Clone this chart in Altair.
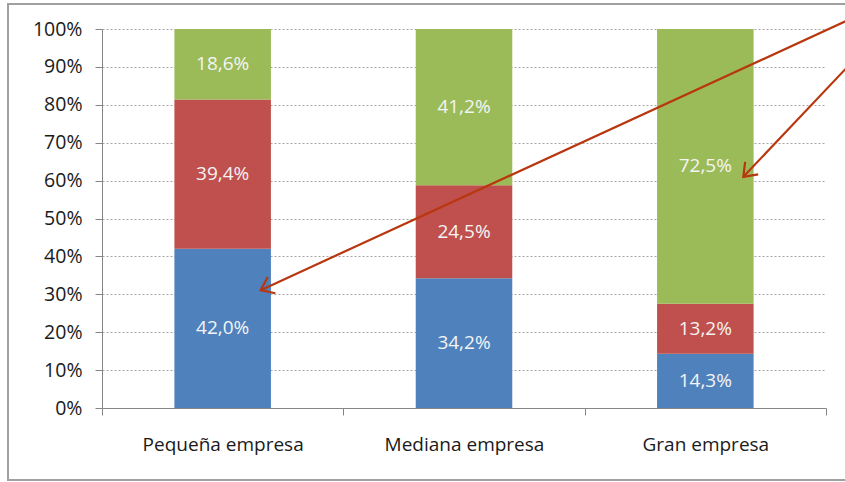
import altair as alt
import pandas as pd

categories = ["Pequeña empresa", "Mediana empresa", "Gran empresa"]
series = ["Serie 1", "Serie 2", "Serie 3"]
values_s1 = [42.0, 34.2, 14.3]
values_s2 = [39.4, 24.5, 13.2]
values_s3 = [18.6, 41.2, 72.5]
colors = ["#4F81BD", "#C0504D", "#9BBB59"]
y_ticks = [0, 0.1, 0.2, 0.3, 0.4, 0.5, 0.6, 0.7, 0.8, 0.9, 1.0]

# annotation arrows (start / end anchored in data space)
arrow_from_cat = ["Gran empresa", "Gran empresa"]
arrow_from_val = [1.037, 0.933]
arrow_to_cat = ["Pequeña empresa", "Gran empresa"]
arrow_to_val = [0.311, 0.610]
arrow_angle = [155.3, 133.8]

FONT = "Open Sans"
rows = []
for i, c in enumerate(categories):
    for k, (s, vals) in enumerate(zip(series, [values_s1, values_s2, values_s3])):
        rows.append({
            "cat": c, "serie": s, "valor": vals[i], "orden": k,
            "etiqueta": f"{vals[i]:.1f}%".replace(".", ","),
        })
df = pd.DataFrame(rows)

arrows = pd.DataFrame({
    "cat_ini": arrow_from_cat, "val_ini": arrow_from_val,
    "cat_fin": arrow_to_cat, "val_fin": arrow_to_val, "ang": arrow_angle,
})

xscale = alt.Scale(domain=categories, paddingInner=0, paddingOuter=0)
yscale = alt.Scale(domain=[0, 1], nice=False)

xaxis = alt.Axis(title=None, labelAngle=0, tickBand="extent", tickSize=7,
                 labelPadding=20, domainColor="#868686", tickColor="#868686",
                 labelFont=FONT, labelFontSize=19, labelColor="#1A1A1A", grid=False,
                 labelOverlap=False)
yaxis = alt.Axis(title=None, format="%", values=y_ticks, tickSize=7, labelPadding=13,
                 domainColor="#868686", tickColor="#868686", gridColor="#A6A6A6",
                 gridDash=[2, 2], gridWidth=1, labelFont=FONT, labelFontSize=19.5,
                 labelColor="#1A1A1A", labelOverlap=False, tickCount=20)

base = alt.Chart(df)

bars = base.mark_bar(width=alt.RelativeBandSize(0.4)).encode(
    x=alt.X("cat:N", scale=xscale, axis=xaxis, sort=categories),
    y=alt.Y("valor:Q", stack="normalize", scale=yscale, axis=yaxis),
    color=alt.Color("serie:N", scale=alt.Scale(domain=series, range=colors), legend=None),
    order=alt.Order("orden:Q", sort="ascending"),
)

labels = base.transform_joinaggregate(
    total="sum(valor)", groupby=["cat"]
).transform_window(
    acum="sum(valor)", groupby=["cat"], sort=[alt.SortField("orden", order="ascending")],
    frame=[None, 0]
).transform_calculate(
    mid="(datum.acum - datum.valor / 2) / datum.total"
).mark_text(font=FONT, fontSize=19, color="#F4F4F4").encode(
    x=alt.X("cat:N", scale=xscale, sort=categories, axis=xaxis),
    y=alt.Y("mid:Q", scale=yscale, axis=yaxis),
    text="etiqueta:N",
)

arrow_color = "#B8370F"
arrow_lines = alt.Chart(arrows).mark_rule(
    color=arrow_color, strokeWidth=2.2, xOffset=154, x2Offset=38
).encode(
    x=alt.X("cat_ini:N", scale=xscale, axis=xaxis),
    y=alt.Y("val_ini:Q", scale=yscale, axis=yaxis),
    x2="cat_fin:N",
    y2="val_fin:Q",
)

arrow_heads = alt.Chart(arrows).mark_point(
    shape="M-1,-0.75L0,0L-1,0.75", filled=False, color=arrow_color,
    strokeWidth=2.2, size=576, xOffset=38, opacity=1,
).encode(
    x=alt.X("cat_fin:N", scale=xscale, axis=xaxis),
    y=alt.Y("val_fin:Q", scale=yscale, axis=yaxis),
    angle=alt.Angle("ang:Q", scale=None),
)

frame = alt.Chart(pd.DataFrame({"marco": [0]})).mark_rect(
    fill=None, stroke="#A0A0A0", strokeWidth=2
).encode(
    x=alt.value(-94), x2=alt.value(760), y=alt.value(-25), y2=alt.value(451)
)

chart = alt.layer(bars, frame, labels, arrow_lines, arrow_heads).properties(
    width=724, height=379,
    padding={"left": 102, "top": 29, "right": 19, "bottom": 74},
    autosize=alt.AutoSizeParams(type="none"),
    background="white",
).configure_view(stroke=None)

chart.save("out.html", embed_options={"renderer": "svg", "actions": False})
